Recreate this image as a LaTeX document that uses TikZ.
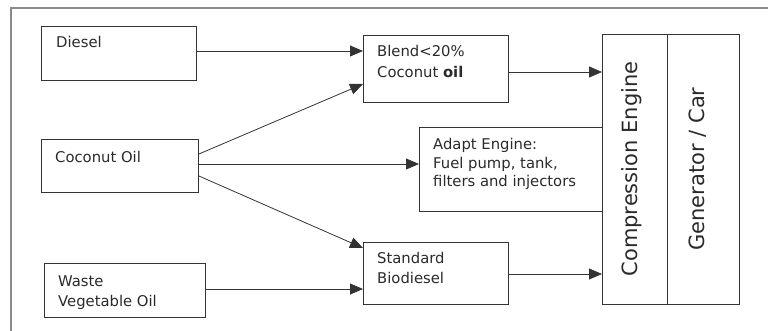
\documentclass[tikz,border=0pt]{standalone}
\usepackage{fontspec}
\setmainfont{DejaVu Sans}
\usetikzlibrary{arrows.meta,calc}
\definecolor{ln}{HTML}{333333}
\definecolor{tx}{HTML}{2A2A2A}
\definecolor{fr}{HTML}{8A8A8A}
\tikzset{
  box/.style={draw=ln, line width=0.9pt, rectangle, inner sep=0pt, anchor=north west},
  txt/.style={text=tx, font=\fontsize{14.8}{20}\selectfont, align=left, anchor=base west, inner sep=0pt},
  vtxt/.style={text=tx, font=\fontsize{21}{24}\selectfont, rotate=90, inner sep=0pt},
  arr/.style={draw=ln, line width=0.8pt, -{Triangle[length=13pt,width=11pt]}},
}
\begin{document}
\begin{tikzpicture}[x=1pt,y=-1pt]
\useasboundingbox (0,0) rectangle (768,331);
\draw[fr, line width=1.2pt] (11,331) -- (11,8) -- (768,8);
% boxes
\node[box, minimum width=155pt, minimum height=54pt] (diesel) at (41,26) {};
\node[box, minimum width=157pt, minimum height=53pt] (coco) at (41,139) {};
\node[box, minimum width=161pt, minimum height=54pt] (waste) at (44,263) {};
\node[box, minimum width=145pt, minimum height=67pt] (blend) at (363,35) {};
\node[box, minimum width=145pt, minimum height=62pt] (std) at (363,242) {};
\node[box, minimum width=65pt, minimum height=270pt] (comp) at (602,34) {};
\node[box, minimum width=72pt, minimum height=270pt] (gen) at (667,34) {};
\coordinate (adtl) at (419,127);
\coordinate (adbl) at (419,211);
\draw[ln, line width=0.9pt] (comp.west |- adtl) -- (adtl) -- (adbl) -- (comp.west |- adbl);
% texts (base anchor = baseline of last line)
\node[txt] (tdiesel) at (56,48) {Diesel};
\node[txt] (tcoco) at (55,163) {Coconut Oil};
\node[txt] (twaste) at (58,306) {Waste\\Vegetable Oil};
\node[txt, font=\fontsize{14.8}{21}\selectfont] (tblend) at (377,78) {Blend<20\%\\Coconut \textbf{oil}};
\node[txt, font=\fontsize{14.8}{18.5}\selectfont] (tadapt) at (433,187) {Adapt Engine:\\Fuel pump, tank,\\filters and injectors};
\node[txt] (tstd) at (377,283) {Standard\\Biodiesel};
\node[vtxt] (tcomp) at (632,169) {Compression Engine};
\node[vtxt] (tgen) at (698,169) {Generator / Car};
% arrows
\draw[arr] (diesel.east |- 0,51) -- (blend.west |- 0,51);
\draw[arr] (coco.east |- 0,154) -- (blend.west |- 0,84);
\draw[arr] (coco.east |- 0,164) -- (adtl |- 0,164);
\draw[arr] (coco.east |- 0,176) -- (std.west |- 0,248);
\draw[arr] (waste.east |- 0,289) -- (std.west |- 0,289);
\draw[arr] (blend.east |- 0,72) -- (comp.west |- 0,72);
\draw[arr] (std.east |- 0,274) -- (comp.west |- 0,274);
\end{tikzpicture}
\end{document}
